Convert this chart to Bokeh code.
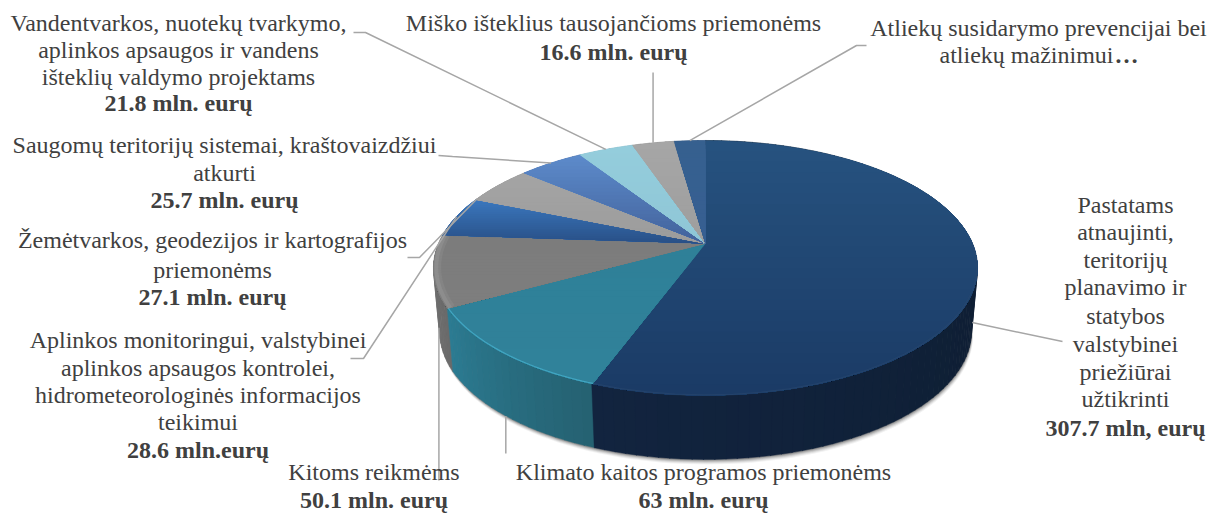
import math
from bokeh.plotting import figure
from bokeh.models import Range1d
from bokeh.core.properties import value
from bokeh.embed import file_html
from bokeh.resources import INLINE

# ---------- data ----------
names = ["Pastatams", "Klimato", "Kitoms", "Aplinkos", "Zemetvarkos",
         "Saugomu", "Vandentvarkos", "Misko", "Atlieku"]
values = [307.7, 63.0, 50.1, 28.6, 27.1, 25.7, 21.8, 16.6, 12.4]

label_lines = [
    ["Pastatams", "atnaujinti,", "teritorijų", "planavimo ir", "statybos", "valstybinei", "priežiūrai", "užtikrinti", "307.7 mln, eurų"],
    ["Klimato kaitos programos priemonėms", "63 mln. eurų"],
    ["Kitoms reikmėms", "50.1 mln. eurų"],
    ["Aplinkos monitoringui, valstybinei", "aplinkos apsaugos kontrolei,", "hidrometeorologinės informacijos", "teikimui", "28.6 mln.eurų"],
    ["Žemėtvarkos, geodezijos ir kartografijos", "priemonėms", "27.1 mln. eurų"],
    ["Saugomų teritorijų sistemai, kraštovaizdžiui", "atkurti", "25.7 mln. eurų"],
    ["Vandentvarkos, nuotekų tvarkymo,", "aplinkos apsaugos ir vandens", "išteklių valdymo projektams", "21.8 mln. eurų"],
    ["Miško išteklius tausojančioms priemonėms", "16.6 mln. eurų"],
    ["Atliekų susidarymo prevencijai bei", "atliekų mažinimui"],
]
bold_last = [True, True, True, True, True, True, True, True, False]

# ---------- layout and style ----------
label_cx = [1125, 703, 373.5, 197.5, 212, 224, 178, 613, 1038]
label_ys = [
    [204, 231, 259, 286, 315, 343, 371, 398, 427],
    [471.5, 499.5], [471.5, 499.5],
    [339.5, 367.5, 394.5, 421.5, 449.5],
    [239.5, 269.5, 296.5], [144.5, 172.5, 199.5],
    [22.5, 49.5, 76.5, 102.5], [22.5, 51.5], [27.5, 54.5],
]
# horizontal nudge of single lines: (label, line) -> px
line_dx = {(8, 1): -12}
ELLIPSIS_X = 1114
# outer part of every leader (None x: vertical, same x as its anchor)
leader_out = [
    [(1062, 341)], [(None, 453)], [(None, 480)],
    [(350, 358), (363, 358)], [(407, 257), (419, 257)], [(438, 155), (452, 156)],
    [(353, 32), (365, 32)], [(None, 72)], [(866, 45), (856, 45)],
]
anchor_frac = [0.5, 0.5, 0.5, 0.5, 0.03, 0.5, 0.5, 0.5, 0.5]
anchor_depth = [0.9, 1.0, 0.9, 0, 0, 0, 0, 0, 0]

top_colors = [("#26527f", "#1b3b66"), ("#2f8098", "#30829a"), ("#7c7c7c", "#7e7e7e"),
              ("#3a77bd", "#295087"), ("#a4a4a4", "#9c9c9c"), ("#5c8aca", "#43639c"),
              ("#94cddc", "#8fc6d6"), ("#a6a6a6", "#9e9e9e"), ("#36608f", "#375f92")]
wall_colors = [("#0a1827", "#12243f"), ("#256171", "#2c7c93"), ("#6a6a6a", "#757575"),
               ("#295087", "#295087"), ("#777777", "#777777"), ("#43639c", "#43639c"),
               ("#7fb0be", "#7fb0be"), ("#7d7d7d", "#7d7d7d"), ("#26476f", "#26476f")]
rim_colors = ["#2c4a70", "#43aac6", "#a8a8a8", None, None, None, None, None, None]
rim_alpha = [0.5, 0.9, 1, 0, 0, 0, 0, 0, 0]

CX, APEX_Y = 705.0, 243.0
K, A, R = 0.192, 122.8, 267.0
TOP_CY, TOP_RX, TOP_RY = 267.0, 272.0, 127.0
BOT_CY, BOT_RX, BOT_RY = 330.0, 266.0, 128.0


def top_pt(deg, scale=1.0):
    t = math.radians(deg)
    u, v = math.sin(t) * scale, math.cos(t) * scale
    d = 1 + K * v
    return CX + R * u / d, APEX_Y - A * v / d


def bot_pt(deg):
    x, y = top_pt(deg)
    return CX + (x - CX) * BOT_RX / TOP_RX, BOT_CY + (y - TOP_CY) * BOT_RY / TOP_RY


def mix(c1, c2, f):
    a = [int(c1[i:i + 2], 16) for i in (1, 3, 5)]
    b = [int(c2[i:i + 2], 16) for i in (1, 3, 5)]
    return "#%02x%02x%02x" % tuple(round(p + (q - p) * f) for p, q in zip(a, b))


def clip_below(poly, y0):
    out = []
    for i, (x1, y1) in enumerate(poly):
        x2, y2 = poly[(i + 1) % len(poly)]
        if y1 >= y0:
            out.append((x1, y1))
        if (y1 >= y0) != (y2 >= y0):
            f = (y0 - y1) / (y2 - y1)
            out.append((x1 + (x2 - x1) * f, y0))
    return out


total = sum(values)
edges = [0.0]
for val in values:
    edges.append(edges[-1] + val / total * 360.0)

p = figure(width=1221, height=513, output_backend="svg", toolbar_location=None,
           x_range=Range1d(0, 1221), y_range=Range1d(513, 0),
           min_border=0, outline_line_color=None, background_fill_color="white")
p.axis.visible = False
p.grid.visible = False

# soft shadow below the bottom rim
for off, alpha in [(5, 0.05), (4, 0.07), (3, 0.10), (2, 0.14), (1, 0.18)]:
    pts = [bot_pt(d) for d in range(0, 361, 2)]
    p.patch([x + off * 0.3 for x, _ in pts], [y + off for _, y in pts],
            fill_color="#000000", fill_alpha=alpha, line_color=None)

# side walls, far pieces first
quads = []
for i in range(len(values)):
    a0, a1 = edges[i], edges[i + 1]
    n = max(2, int((a1 - a0) / 2))
    for j in range(n):
        d0 = a0 + (a1 - a0) * j / n
        d1 = a0 + (a1 - a0) * (j + 1) / n + 0.15
        col = mix(wall_colors[i][0], wall_colors[i][1], (j + 0.5) / n)
        x0, y0 = top_pt(d0)
        x1, y1 = top_pt(d1)
        x2, y2 = bot_pt(d1)
        x3, y3 = bot_pt(d0)
        quads.append((y0 + y1, [x0, x1, x2, x3], [y0, y1, y2, y3], col))
quads.sort(key=lambda q: q[0])
for _, xs, ys, col in quads:
    p.patch(xs, ys, fill_color=col, line_color=col, line_width=0.4)

# top faces with a vertical gradient
for i in range(len(values)):
    a0, a1 = edges[i], edges[i + 1]
    n = max(3, int((a1 - a0) / 1.5))
    poly = [(CX, APEX_Y)] + [top_pt(a0 + (a1 - a0) * j / n) for j in range(n + 1)]
    ymin = min(y for _, y in poly)
    ymax = max(y for _, y in poly)
    bands = 24
    for b in range(bands):
        y0 = ymin + (ymax - ymin) * b / bands
        clipped = clip_below(poly, y0)
        if len(clipped) < 3:
            continue
        col = mix(top_colors[i][0], top_colors[i][1], b / (bands - 1))
        p.patch([q[0] for q in clipped], [q[1] for q in clipped],
                fill_color=col, line_color=None if b else col, line_width=0.3)

# bevel on the rim
for i, col in enumerate(rim_colors):
    if col is None:
        continue
    a0, a1 = edges[i], edges[i + 1]
    dd = [a0 + (a1 - a0) * j / 40 for j in range(41)]
    if i == 0:
        dd = [d for d in dd if d > 90]
    if i == 2:
        for sc, w, al in [(0.985, 7, 0.18), (0.99, 4, 0.25)]:
            pts = [top_pt(d, sc) for d in dd]
            p.line([q[0] for q in pts], [q[1] for q in pts], line_color=col, line_width=w, line_alpha=al)
    else:
        pts = [top_pt(d, 0.997) for d in dd]
        p.line([q[0] for q in pts], [q[1] for q in pts], line_color=col, line_width=1.2, line_alpha=rim_alpha[i])

# leader lines, anchored at each slice
for i in range(len(values)):
    d = edges[i] + (edges[i + 1] - edges[i]) * anchor_frac[i]
    tx, ty = top_pt(d)
    bx, by = bot_pt(d)
    ax, ay = tx + (bx - tx) * anchor_depth[i], ty + (by - ty) * anchor_depth[i]
    xs = [ax if q[0] is None else q[0] for q in leader_out[i]] + [ax]
    ys = [q[1] for q in leader_out[i]] + [ay]
    p.line(xs, ys, line_color="#a6a6a6", line_width=1.5)

# labels
FONT = value("Liberation Serif")
for i, lines in enumerate(label_lines):
    for j, line in enumerate(lines):
        bold = bold_last[i] and j == len(lines) - 1
        p.text([label_cx[i] + line_dx.get((i, j), 0)], [label_ys[i][j]], text=[line], text_font=FONT,
               text_font_size="24px", text_color="#404040", text_align="center",
               text_baseline="middle", text_font_style="bold" if bold else "normal")
p.text([ELLIPSIS_X], [label_ys[8][1]], text=["…"], text_font=FONT, text_font_size="24px", text_color="#404040",
       text_align="left", text_baseline="middle", text_font_style="bold")

open("out.html", "w").write(file_html(p, INLINE))
